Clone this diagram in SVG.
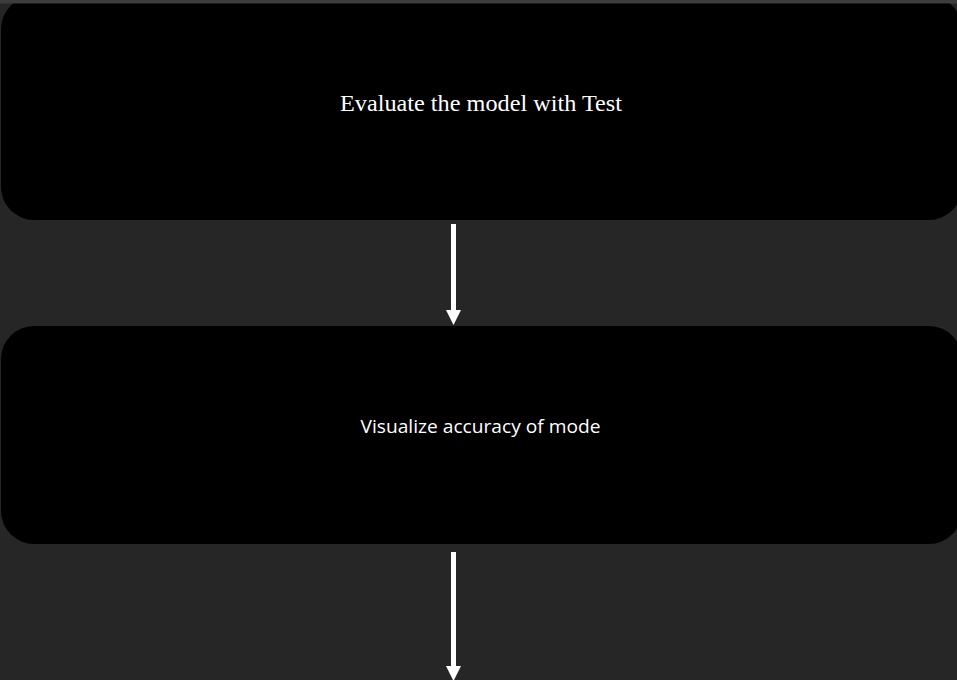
<svg xmlns="http://www.w3.org/2000/svg" width="957" height="680" viewBox="0 0 957 680">
<style>
.box{fill:#000000}
.conn{stroke:#ffffff;stroke-width:5;fill:none}
.head{fill:#ffffff}
.t1{font-family:"Liberation Serif","Times New Roman",serif;font-size:24px;fill:#ffffff}
.t2{font-family:"Open Sans","Noto Sans","Liberation Sans",sans-serif;font-size:18px;fill:#ffffff}
</style>
<rect x="0" y="0" width="957" height="680" fill="#262626"/>
<g id="node-evaluate">
<rect class="box" x="1" y="-4" width="961" height="224" rx="33" ry="33"/>
<text class="t1" x="481" y="111" text-anchor="middle" textLength="282" lengthAdjust="spacingAndGlyphs">Evaluate the model with Test</text>
</g>
<g id="node-visualize">
<rect class="box" x="1" y="326" width="961" height="218" rx="33" ry="33"/>
<text class="t2" x="480.5" y="433" text-anchor="middle" textLength="240" lengthAdjust="spacingAndGlyphs">Visualize accuracy of mode</text>
</g>
<g id="connectors">
<line class="conn" x1="453.5" y1="224" x2="453.5" y2="311"/>
<polygon class="head" points="446,310 461,310 453.5,325"/>
<line class="conn" x1="453.5" y1="552" x2="453.5" y2="667"/>
<polygon class="head" points="446,666 461,666 453.5,681"/>
</g>
<rect x="0" y="0" width="957" height="3.5" fill="#3c3c3c"/>
</svg>
